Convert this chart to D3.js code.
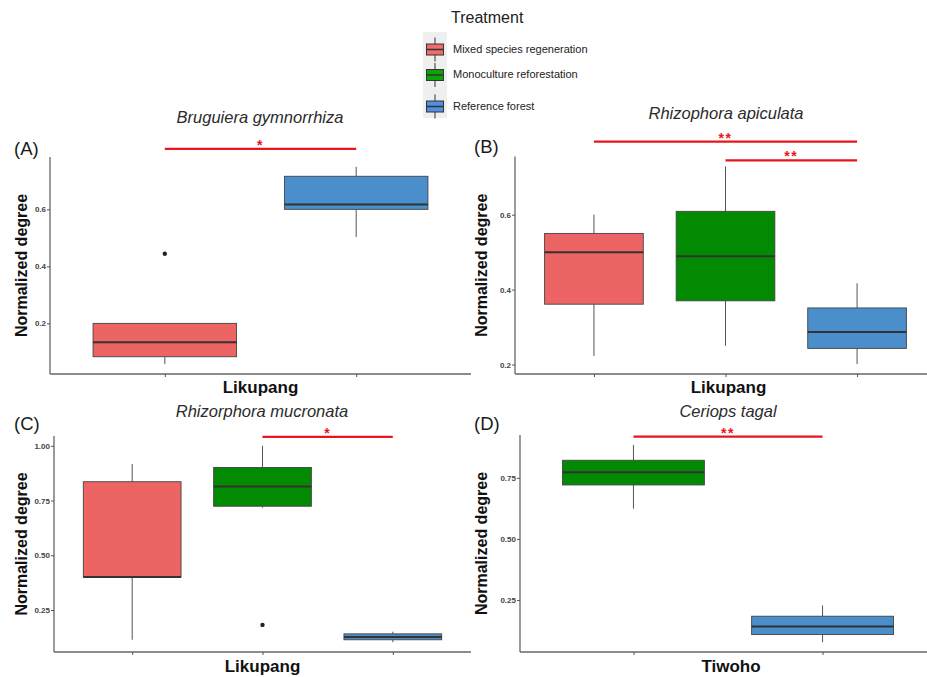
<!DOCTYPE html>
<html>
<head>
<meta charset="utf-8">
<script src="https://cdn.jsdelivr.net/npm/d3@7"></script>
<style>
  body { margin: 0; background: #fff; }
  svg { display: block; font-family: "Liberation Sans", Arial, sans-serif; }
</style>
</head>
<body>
<svg id="chart" width="927" height="677"></svg>
<script>
// ---------------- DATA ----------------
const treatments = ["Mixed species regeneration", "Monoculture reforestation", "Reference forest"];
const treatmentColors = ["#EC6464", "#038A03", "#4A8FCC"];
const legendColors = ["#F26C6C", "#0AA40A", "#5090E0"];
const legendTitle = "Treatment";

const panelLetters = ["(A)", "(B)", "(C)", "(D)"];
const panelTitles = ["Bruguiera gymnorrhiza", "Rhizophora apiculata", "Rhizorphora mucronata", "Ceriops tagal"];
const siteLabels = ["Likupang", "Likupang", "Likupang", "Tiwoho"];
const yLabel = "Normalized degree";

// five-number summaries: [lower whisker, Q1, median, Q3, upper whisker]
const groupsA = ["Mixed species regeneration", "Reference forest"];
const statsA = [[0.057, 0.083, 0.134, 0.200, 0.200], [0.503, 0.600, 0.617, 0.716, 0.749]];
const outliersA = [[0.444], []];
const ticksA = [0.2, 0.4, 0.6];
const sigA = [[0, 1, 0.812, "*"]];

const groupsB = ["Mixed species regeneration", "Monoculture reforestation", "Reference forest"];
const statsB = [[0.223, 0.361, 0.500, 0.550, 0.600], [0.250, 0.370, 0.489, 0.609, 0.729], [0.201, 0.243, 0.287, 0.351, 0.417]];
const outliersB = [[], [], []];
const ticksB = [0.2, 0.4, 0.6];
const sigB = [[0, 2, 0.795, "**"], [1, 2, 0.745, "**"]];

const groupsC = ["Mixed species regeneration", "Monoculture reforestation", "Reference forest"];
const statsC = [[0.114, 0.401, 0.401, 0.836, 0.917], [0.717, 0.724, 0.814, 0.901, 1.000], [0.103, 0.114, 0.127, 0.141, 0.151]];
const outliersC = [[], [0.182], []];
const ticksC = [0.25, 0.50, 0.75, 1.00];
const sigC = [[1, 2, 1.041, "*"]];

const groupsD = ["Monoculture reforestation", "Reference forest"];
const statsD = [[0.624, 0.721, 0.773, 0.822, 0.885], [0.078, 0.109, 0.142, 0.184, 0.228]];
const outliersD = [[], []];
const ticksD = [0.25, 0.50, 0.75];
const sigD = [[0, 1, 0.919, "**"]];

// ---------------- LAYOUT ----------------
const panels = [
  { groups: groupsA, stats: statsA, outliers: outliersA, ticks: ticksA, sig: sigA, fmt: ".1f",
    x0: 50, x1: 471, y0: 157, y1: 374, titleY: 123, letterX: 14, letterY: 155, ylabX: 27, xlabY: 393, titleX: 260 },
  { groups: groupsB, stats: statsB, outliers: outliersB, ticks: ticksB, sig: sigB, fmt: ".1f",
    x0: 515, x1: 936, y0: 156.5, y1: 374, titleY: 119, letterX: 474, letterY: 153, ylabX: 487, xlabY: 393, titleX: 726 },
  { groups: groupsC, stats: statsC, outliers: outliersC, ticks: ticksC, sig: sigC, fmt: ".2f",
    x0: 54, x1: 471, y0: 436, y1: 652, titleY: 417, letterX: 14, letterY: 430, ylabX: 27, xlabY: 672, titleX: 262 },
  { groups: groupsD, stats: statsD, outliers: outliersD, ticks: ticksD, sig: sigD, fmt: ".2f",
    x0: 520, x1: 936, y0: 435, y1: 652, titleY: 417, letterX: 474, letterY: 430, ylabX: 487, xlabY: 672, titleX: 728 }
];

const svg = d3.select("#chart");
const colorScale = d3.scaleOrdinal().domain(treatments).range(treatmentColors);

panels.forEach((p, i) => {
  const g = svg.append("g");
  const x = d3.scalePoint().domain(p.groups).range([p.x0, p.x1]).padding(0.6);
  const step = x.step();
  const bw = step * 0.75;

  const allVals = p.stats.flat().concat(p.outliers.flat());
  const lo = d3.min(allVals), hi = d3.max(allVals), r = hi - lo;
  const y = d3.scaleLinear().domain([lo - 0.05 * r, hi + 0.05 * r]).range([p.y1, p.y0]);

  // Title
  g.append("text").attr("x", p.titleX).attr("y", p.titleY)
    .attr("text-anchor", "middle").attr("font-size", 16.5).attr("font-style", "italic")
    .attr("fill", "#2b2b2b").text(panelTitles[i]);
  // Panel letter
  g.append("text").attr("x", p.letterX).attr("y", p.letterY)
    .attr("font-size", 18.5).attr("fill", "#1a1a1a").text(panelLetters[i]);

  // Boxes
  p.groups.forEach((grp, j) => {
    const s = p.stats[j];
    const cx = x(grp);
    // whiskers
    g.append("line").attr("x1", cx).attr("x2", cx).attr("y1", y(s[0])).attr("y2", y(s[1]))
      .attr("stroke", "#555").attr("stroke-width", 1);
    g.append("line").attr("x1", cx).attr("x2", cx).attr("y1", y(s[3])).attr("y2", y(s[4]))
      .attr("stroke", "#555").attr("stroke-width", 1);
    // box
    g.append("rect").attr("x", cx - bw / 2).attr("width", bw)
      .attr("y", y(s[3])).attr("height", Math.max(0.5, y(s[1]) - y(s[3])))
      .attr("fill", colorScale(grp)).attr("stroke", "#444").attr("stroke-width", 0.9);
    // median
    g.append("line").attr("x1", cx - bw / 2).attr("x2", cx + bw / 2)
      .attr("y1", y(s[2])).attr("y2", y(s[2]))
      .attr("stroke", "#333").attr("stroke-width", 2);
    // outliers
    p.outliers[j].forEach(v => {
      g.append("circle").attr("cx", cx).attr("cy", y(v)).attr("r", 2.2).attr("fill", "#222");
    });
  });

  // Axes
  const yAxis = d3.axisLeft(y).tickValues(p.ticks).tickSize(3).tickSizeOuter(0)
    .tickFormat(d3.format(p.fmt));
  const ya = g.append("g").attr("transform", `translate(${p.x0},0)`).call(yAxis);
  ya.select(".domain").attr("stroke", "#666").attr("stroke-width", 1.3)
    .attr("d", `M0,${p.y0}V${p.y1}`);
  ya.selectAll(".tick line").attr("stroke", "#555");
  ya.selectAll(".tick text").attr("font-size", 8).attr("font-weight", "bold")
    .attr("fill", "#444").attr("x", -4).style("font-family", "Liberation Sans, Arial, sans-serif");

  const xAxis = d3.axisBottom(x).tickSize(3).tickSizeOuter(0).tickFormat("");
  const xa = g.append("g").attr("transform", `translate(0,${p.y1})`).call(xAxis);
  xa.select(".domain").attr("stroke", "#666").attr("stroke-width", 1.3)
    .attr("d", `M${p.x0},0H${p.x1}`);
  xa.selectAll(".tick line").attr("stroke", "#555");

  // axis labels
  g.append("text").attr("transform", `translate(${p.ylabX},${(p.y0 + p.y1) / 2}) rotate(-90)`)
    .attr("text-anchor", "middle").attr("font-size", 16).attr("font-weight", "bold")
    .attr("fill", "#111").text(yLabel);
  g.append("text").attr("x", (p.x0 + Math.min(p.x1, 936)) / 2 + (i === 1 || i === 3 ? 3 : 0)).attr("y", p.xlabY)
    .attr("text-anchor", "middle").attr("font-size", 17).attr("font-weight", "bold")
    .attr("fill", "#111").text(siteLabels[i]);

  // significance bars
  p.sig.forEach(sg => {
    const xa1 = x(p.groups[sg[0]]), xa2 = x(p.groups[sg[1]]), yy = y(sg[2]);
    g.append("line").attr("x1", xa1).attr("x2", xa2).attr("y1", yy).attr("y2", yy)
      .attr("stroke", "#E8151C").attr("stroke-width", 2.2);
    g.append("text").attr("x", (xa1 + xa2) / 2).attr("y", yy + 1)
      .attr("text-anchor", "middle").attr("font-size", 14).attr("font-weight", "bold")
      .attr("letter-spacing", 1.5)
      .attr("fill", "#E8151C").text(sg[3]);
  });
});

// ---------------- LEGEND ----------------
const lg = svg.append("g");
lg.append("text").attr("x", 451).attr("y", 23).attr("font-size", 16).attr("fill", "#222").text(legendTitle);
const keyY = [49.5, 75, 106.5];
lg.append("rect").attr("x", 423).attr("y", 32).attr("width", 24).attr("height", 86).attr("fill", "#efefef");
treatments.forEach((t, k) => {
  const cy = keyY[k];
  lg.append("line").attr("x1", 435).attr("x2", 435).attr("y1", cy - 12).attr("y2", cy + 12)
    .attr("stroke", "#333").attr("stroke-width", 1);
  lg.append("rect").attr("x", 426.5).attr("y", cy - 5.5).attr("width", 17).attr("height", 11)
    .attr("fill", legendColors[k]).attr("stroke", "#333").attr("stroke-width", 1);
  lg.append("line").attr("x1", 426.5).attr("x2", 443.5).attr("y1", cy).attr("y2", cy)
    .attr("stroke", "#333").attr("stroke-width", 1.5);
  lg.append("text").attr("x", 453).attr("y", cy + 3.5 + (k === 1 ? -0.5 : 0))
    .attr("font-size", 11).attr("fill", "#222").text(t);
});
</script>
</body>
</html>
